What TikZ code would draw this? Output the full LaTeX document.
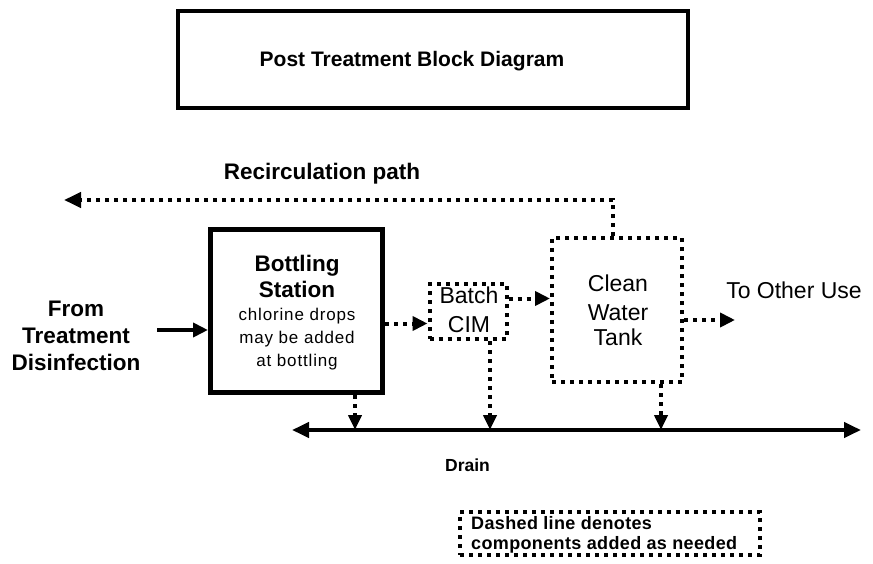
\documentclass[tikz,border=0pt]{standalone}
\usepackage{fontspec}
\setmainfont{Liberation Sans}
\newfontfamily\spacedfont[LetterSpace=5]{Liberation Sans}
\newfontfamily\notefont[LetterSpace=2]{Liberation Sans}
\usetikzlibrary{arrows.meta}
\begin{document}
\begin{tikzpicture}[x=1pt,y=-1pt,
  lbl/.style={inner sep=0pt, anchor=base, text=black},
  titletext/.style={lbl, font=\fontsize{21}{25}\selectfont\bfseries},
  boldtext/.style={lbl, font=\fontsize{22.5}{27}\selectfont\bfseries},
  plaintext/.style={lbl, font=\fontsize{23}{27}\selectfont},
  smalltext/.style={lbl, font=\spacedfont\fontsize{17}{21}\selectfont},
  notetext/.style={inner sep=0pt, anchor=base west, font=\notefont\fontsize{18}{21}\selectfont\bfseries},
  drainlabel/.style={lbl, font=\fontsize{17.5}{21}\selectfont\bfseries},
  solidbox/.style={draw, line width=#1, inner sep=0pt},
  dotbox/.style={draw, line width=4pt, dash pattern=on 4pt off 5pt, inner sep=0pt},
  dotline/.style={line width=4pt, dash pattern=on 4pt off 5pt},
  solidline/.style={line width=4pt},
  tip/.style={-{Triangle[length=15pt,width=14pt]}},
  droptip/.style={-{Triangle[length=15pt,width=13pt]}}
]
\useasboundingbox (0,0) rectangle (873,564);

% title frame
\node[solidbox=4pt, minimum width=510pt, minimum height=97pt] (title) at (433,59.5) {};
\node[titletext] (titlelbl) at (412,67) {Post Treatment Block Diagram};

% process blocks
\node[solidbox=5pt, minimum width=172pt, minimum height=163pt] (bottle) at (296.5,311) {};
\node[dotbox, minimum width=77pt, minimum height=55pt] (batch) at (468,311.5) {};
\node[dotbox, minimum width=130pt, minimum height=144pt] (tank) at (617,310) {};
\node[dotbox, minimum width=300pt, minimum height=43pt] (note) at (610,533.5) {};

% block texts
\node[boldtext] (bottle1) at (297,271.5) {Bottling};
\node[boldtext] (bottle2) at (297,298) {Station};
\node[smalltext] (bottle3) at (297,320.5) {chlorine drops};
\node[smalltext] (bottle4) at (297,343) {may be added};
\node[smalltext] (bottle5) at (297,366) {at bottling};

\node[plaintext] (batch1) at (469,303.5) {Batch};
\node[plaintext] (batch2) at (469,332.5) {CIM};

\node[plaintext] (tank1) at (618,291.5) {Clean};
\node[plaintext] (tank2) at (618,320) {Water};
\node[plaintext] (tank3) at (618,345.5) {Tank};

\node[boldtext] (src1) at (76,316.5) {From};
\node[boldtext] (src2) at (76,343) {Treatment};
\node[boldtext] (src3) at (76,370.5) {Disinfection};

\node[plaintext] (other) at (794,298.5) {To Other Use};
\node[boldtext] (recirclbl) at (322,180) {Recirculation path};
\node[drainlabel] (drainlbl) at (467.5,471.5) {Drain};

\node[notetext] (note1) at (471,529) {Dashed line denotes};
\node[notetext] (note2) at (471,549.5) {components added as needed};

% free ends of the connectors
\coordinate (srcend) at (157,330);
\coordinate (otherend) at (735,320);
\coordinate (recircturn) at (613,200);
\coordinate (recircend) at (64,200);
\coordinate (drainL) at (292,430);
\coordinate (drainR) at (861,430);

% main flow
\draw[solidline, tip] (srcend) -- (bottle.west |- srcend);
\draw[dotline, tip] (bottle.east |- 0,323.5) -- (batch.west |- 0,323.5);
\draw[dotline, tip] (batch.east |- 0,298.5) -- (tank.west |- 0,298.5);
\draw[dotline, tip] (tank.east |- otherend) -- (otherend);

% recirculation
\draw[dotline, -{Triangle[length=17pt,width=15pt]}] (tank.north -| recircturn) -- (recircturn) -- (recircend);

% drain header and branches
\draw[solidline, {Triangle[length=17pt,width=15pt]}-{Triangle[length=17pt,width=15pt]}] (drainL) -- (drainR);
\draw[dotline, droptip] (bottle.south -| 355,0) -- (355,0 |- drainL);
\draw[dotline, droptip] (batch.south -| 490,0) -- (490,0 |- drainL);
\draw[dotline, droptip] (tank.south -| 661,0) -- (661,0 |- drainL);
\end{tikzpicture}
\end{document}
